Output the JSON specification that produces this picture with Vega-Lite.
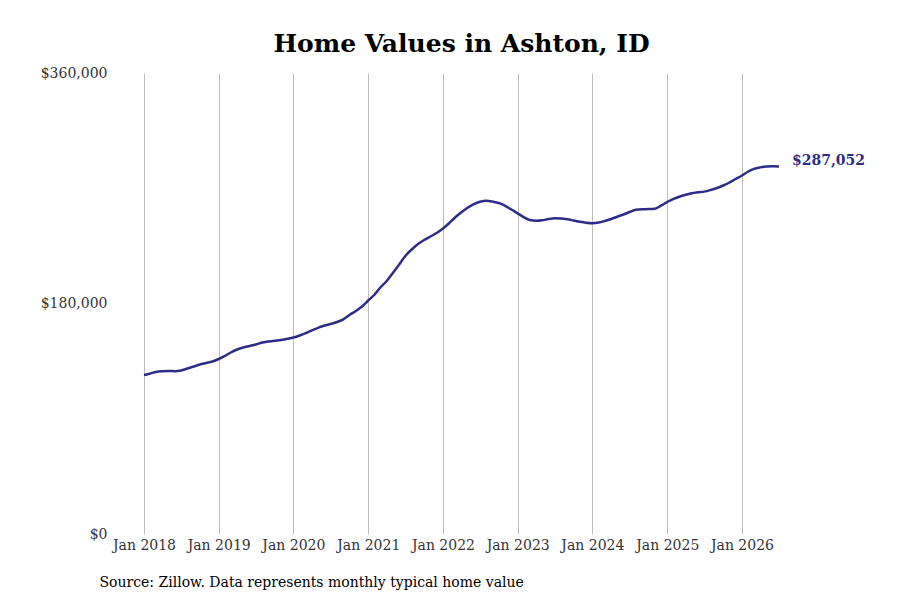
{
  "$schema": "https://vega.github.io/schema/vega-lite/v6.json",
  "width": 635,
  "height": 461,
  "autosize": "none",
  "padding": {"left": 144, "top": 73, "right": 121, "bottom": 66},
  "background": "white",
  "title": {
    "text": "Home Values in Ashton, ID",
    "font": "DejaVu Serif",
    "fontSize": 25,
    "fontWeight": "bold",
    "color": "black",
    "anchor": "middle",
    "offset": 9
  },
  "data": {
    "values": [
      {"date": "2018-01-01", "value": 124160},
      {"date": "2018-02-01", "value": 125330},
      {"date": "2018-03-01", "value": 126500},
      {"date": "2018-04-01", "value": 127050},
      {"date": "2018-05-01", "value": 127290},
      {"date": "2018-06-01", "value": 127130},
      {"date": "2018-07-01", "value": 127680},
      {"date": "2018-08-01", "value": 129240},
      {"date": "2018-09-01", "value": 130800},
      {"date": "2018-10-01", "value": 132360},
      {"date": "2018-11-01", "value": 133530},
      {"date": "2018-12-01", "value": 134700},
      {"date": "2019-01-01", "value": 136660},
      {"date": "2019-02-01", "value": 139160},
      {"date": "2019-03-01", "value": 141730},
      {"date": "2019-04-01", "value": 144080},
      {"date": "2019-05-01", "value": 145640},
      {"date": "2019-06-01", "value": 146810},
      {"date": "2019-07-01", "value": 147980},
      {"date": "2019-08-01", "value": 149540},
      {"date": "2019-09-01", "value": 150320},
      {"date": "2019-10-01", "value": 150950},
      {"date": "2019-11-01", "value": 151490},
      {"date": "2019-12-01", "value": 152430},
      {"date": "2020-01-01", "value": 153450},
      {"date": "2020-02-01", "value": 155000},
      {"date": "2020-03-01", "value": 156800},
      {"date": "2020-04-01", "value": 159070},
      {"date": "2020-05-01", "value": 161020},
      {"date": "2020-06-01", "value": 162820},
      {"date": "2020-07-01", "value": 163990},
      {"date": "2020-08-01", "value": 165550},
      {"date": "2020-09-01", "value": 167660},
      {"date": "2020-10-01", "value": 171020},
      {"date": "2020-11-01", "value": 174140},
      {"date": "2020-12-01", "value": 177660},
      {"date": "2021-01-01", "value": 182340},
      {"date": "2021-02-01", "value": 187030},
      {"date": "2021-03-01", "value": 192500},
      {"date": "2021-04-01", "value": 197570},
      {"date": "2021-05-01", "value": 203820},
      {"date": "2021-06-01", "value": 210460},
      {"date": "2021-07-01", "value": 217100},
      {"date": "2021-08-01", "value": 222170},
      {"date": "2021-09-01", "value": 226470},
      {"date": "2021-10-01", "value": 229590},
      {"date": "2021-11-01", "value": 232330},
      {"date": "2021-12-01", "value": 235060},
      {"date": "2022-01-01", "value": 238570},
      {"date": "2022-02-01", "value": 242870},
      {"date": "2022-03-01", "value": 247160},
      {"date": "2022-04-01", "value": 251220},
      {"date": "2022-05-01", "value": 254730},
      {"date": "2022-06-01", "value": 257700},
      {"date": "2022-07-01", "value": 259490},
      {"date": "2022-08-01", "value": 260200},
      {"date": "2022-09-01", "value": 259570},
      {"date": "2022-10-01", "value": 258480},
      {"date": "2022-11-01", "value": 256290},
      {"date": "2022-12-01", "value": 253400},
      {"date": "2023-01-01", "value": 250430},
      {"date": "2023-02-01", "value": 247310},
      {"date": "2023-03-01", "value": 245200},
      {"date": "2023-04-01", "value": 244580},
      {"date": "2023-05-01", "value": 244970},
      {"date": "2023-06-01", "value": 245980},
      {"date": "2023-07-01", "value": 246530},
      {"date": "2023-08-01", "value": 246370},
      {"date": "2023-09-01", "value": 245750},
      {"date": "2023-10-01", "value": 244810},
      {"date": "2023-11-01", "value": 243800},
      {"date": "2023-12-01", "value": 243020},
      {"date": "2024-01-01", "value": 242630},
      {"date": "2024-02-01", "value": 243180},
      {"date": "2024-03-01", "value": 244420},
      {"date": "2024-04-01", "value": 245980},
      {"date": "2024-05-01", "value": 247780},
      {"date": "2024-06-01", "value": 249500},
      {"date": "2024-07-01", "value": 251450},
      {"date": "2024-08-01", "value": 253170},
      {"date": "2024-09-01", "value": 253640},
      {"date": "2024-10-01", "value": 253720},
      {"date": "2024-11-01", "value": 254030},
      {"date": "2024-12-01", "value": 256370},
      {"date": "2025-01-01", "value": 259260},
      {"date": "2025-02-01", "value": 261760},
      {"date": "2025-03-01", "value": 263400},
      {"date": "2025-04-01", "value": 264880},
      {"date": "2025-05-01", "value": 266130},
      {"date": "2025-06-01", "value": 266830},
      {"date": "2025-07-01", "value": 267380},
      {"date": "2025-08-01", "value": 268630},
      {"date": "2025-09-01", "value": 270190},
      {"date": "2025-10-01", "value": 272140},
      {"date": "2025-11-01", "value": 274480},
      {"date": "2025-12-01", "value": 277220},
      {"date": "2026-01-01", "value": 279950},
      {"date": "2026-02-01", "value": 283080},
      {"date": "2026-03-01", "value": 285180},
      {"date": "2026-04-01", "value": 286300},
      {"date": "2026-05-01", "value": 286900},
      {"date": "2026-06-01", "value": 287150},
      {"date": "2026-07-01", "value": 287052}
    ]
  },
  "encoding": {
    "x": {
      "field": "date",
      "type": "temporal",
      "scale": {"type": "utc"},
      "axis": {
        "values": [
          {"year": 2018, "month": 1, "date": 1, "utc": true},
          {"year": 2019, "month": 1, "date": 1, "utc": true},
          {"year": 2020, "month": 1, "date": 1, "utc": true},
          {"year": 2021, "month": 1, "date": 1, "utc": true},
          {"year": 2022, "month": 1, "date": 1, "utc": true},
          {"year": 2023, "month": 1, "date": 1, "utc": true},
          {"year": 2024, "month": 1, "date": 1, "utc": true},
          {"year": 2025, "month": 1, "date": 1, "utc": true},
          {"year": 2026, "month": 1, "date": 1, "utc": true}
        ],
        "format": "%b %Y",
        "grid": true,
        "gridColor": "#bdbdbd",
        "gridWidth": 1,
        "ticks": false,
        "domain": false,
        "labelFlush": false,
        "labelPadding": 4,
        "labelFont": "DejaVu Serif",
        "labelFontSize": 14,
        "labelColor": "#333333",
        "title": "Source: Zillow. Data represents monthly typical home value",
        "titleFont": "DejaVu Serif",
        "titleFontSize": 14,
        "titleFontWeight": "normal",
        "titleColor": "black",
        "titleAnchor": "start",
        "titleAlign": "left",
        "titleBaseline": "middle",
        "titleX": -45,
        "titleY": 48
      }
    },
    "y": {
      "field": "value",
      "type": "quantitative",
      "scale": {"domain": [0, 360000], "nice": false},
      "axis": {
        "values": [0, 180000, 360000],
        "format": "$,.0f",
        "grid": false,
        "ticks": false,
        "domain": false,
        "labelFlush": false,
        "labelPadding": 37,
        "labelFont": "DejaVu Serif",
        "labelFontSize": 14,
        "labelColor": "#333333",
        "title": null
      }
    }
  },
  "layer": [
    {
      "mark": {
        "type": "line",
        "color": "#2e2c89",
        "strokeWidth": 2.5,
        "interpolate": "monotone"
      }
    },
    {
      "transform": [{"filter": "datum.value == 287052"}],
      "mark": {
        "type": "text",
        "align": "left",
        "baseline": "middle",
        "dx": 13,
        "dy": -5,
        "font": "DejaVu Serif",
        "fontSize": 14,
        "fontWeight": "bold",
        "color": "#2e2c89"
      },
      "encoding": {
        "text": {"field": "value", "type": "quantitative", "format": "$,.0f"}
      }
    }
  ],
  "config": {"view": {"stroke": null}}
}
